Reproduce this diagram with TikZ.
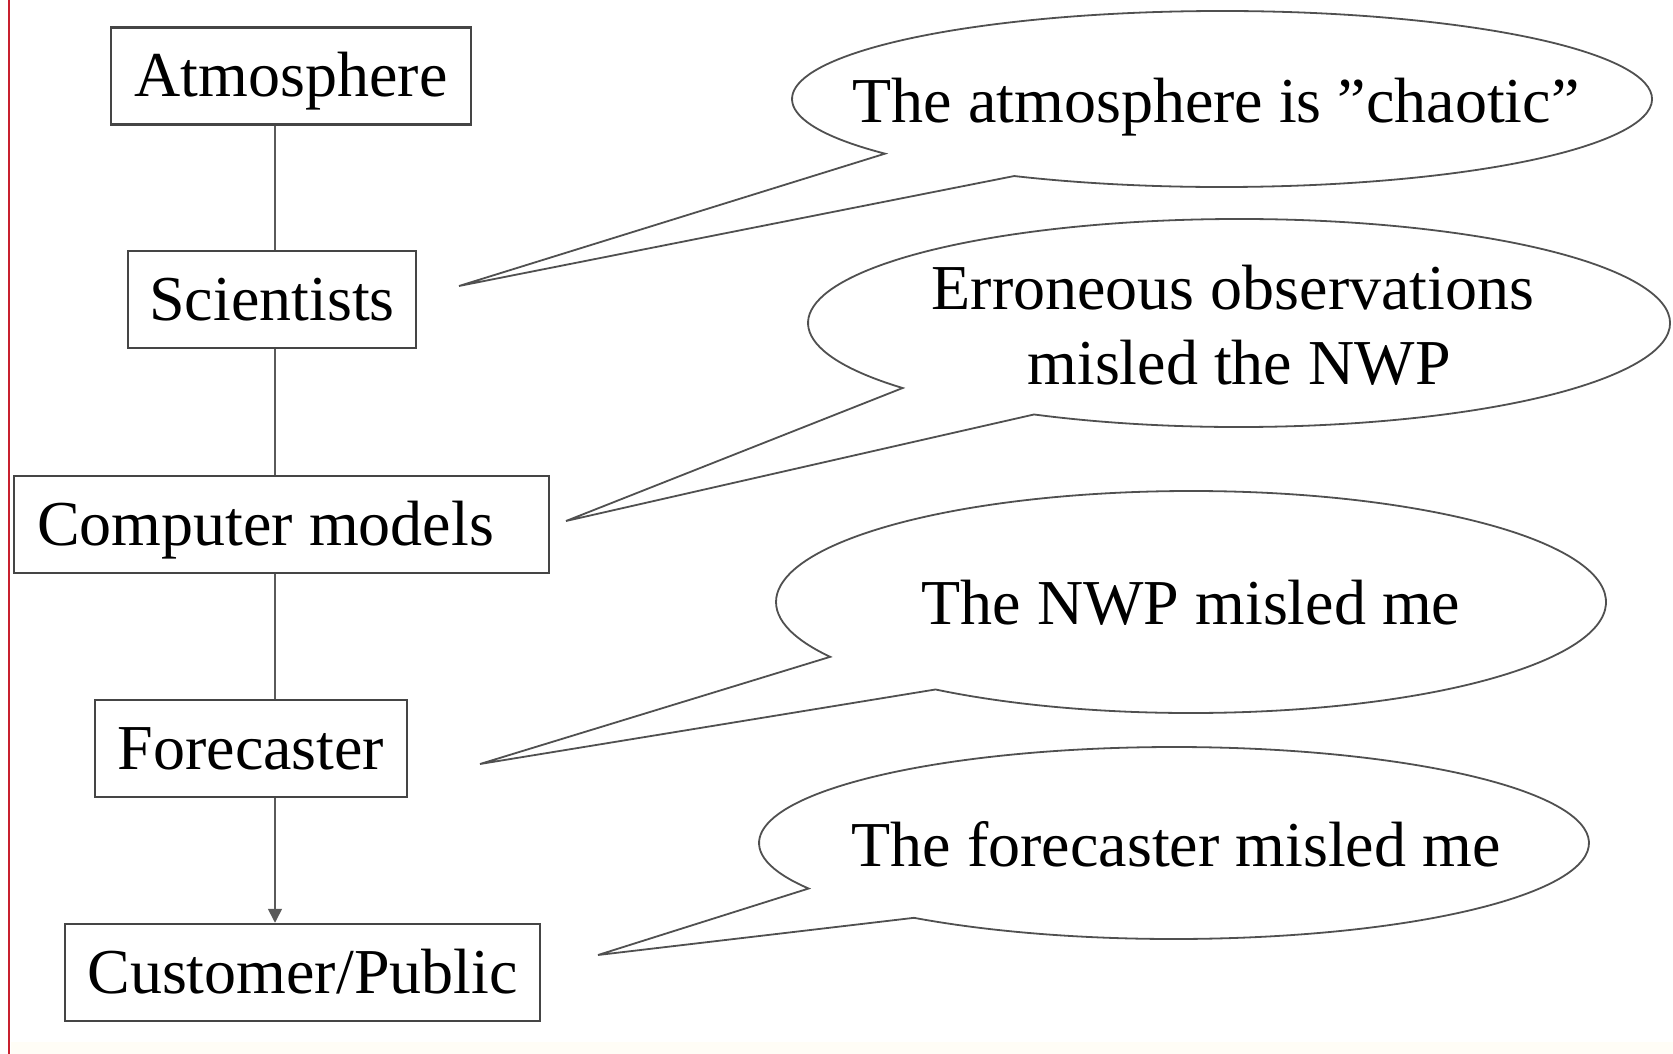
\documentclass[tikz,border=0pt]{standalone}
\usepackage{fontspec}
\setmainfont{Liberation Serif}
\usetikzlibrary{arrows.meta,calc}
\definecolor{boxline}{HTML}{454545}
\definecolor{connline}{HTML}{5A5A5A}
\definecolor{bubline}{HTML}{505050}
\definecolor{redrule}{HTML}{C8202E}
\definecolor{creamband}{HTML}{FFFDF6}
\begin{document}
\begin{tikzpicture}[x=1pt,y=-1pt,
  lbl/.style={font=\fontsize{64}{75}\selectfont, text=black, text height=42pt, text depth=0pt, inner sep=0pt},
  flowbox/.style={lbl, draw=boxline, line width=2.5pt, minimum height=97pt, inner xsep=0pt, inner ysep=0pt, align=center},
  connector/.style={draw=connline, line width=1.6pt},
  bubble/.style={draw=bubline, line width=1.8pt, line join=miter, fill=white}
]
% canvas
\fill[white] (0,0) rectangle (1673,1054);
\useasboundingbox (0,0) rectangle (1673,1054);
\fill[creamband] (11,1042) rectangle (1673,1054);
\draw[redrule, line width=2.5pt] (9,0) -- (9,1054);

% flow boxes
\node[flowbox, text width=360pt] (atm) at (291,76) {Atmosphere};
\node[flowbox, text width=288pt] (sci) at (272,299.5) {Scientists};
\node[flowbox, inner xsep=23pt, text width=489pt, align=flush left] (cm) at (281.5,524.5) {Computer models};
\node[flowbox, text width=312pt] (fc) at (251,748.5) {Forecaster};
\node[flowbox, text width=475pt] (cp) at (302.5,972.5) {Customer/Public};

% vertical connectors
\coordinate (ax) at (275,0);
\draw[connector] (atm.south -| ax) -- (sci.north -| ax);
\draw[connector] (sci.south -| ax) -- (cm.north -| ax);
\draw[connector] (cm.south -| ax) -- (fc.north -| ax);
\draw[connector, -{Triangle[length=14pt,width=14pt]}] (fc.south -| ax) -- (cp.north -| ax);

% bubble 1
\coordinate (e1) at (1222,99);
\coordinate (n1) at ($(e1)+(141.6:430 and 88)$);
\coordinate (j1) at ($(e1)+(118.9:430 and 88)$);
\coordinate (tip1) at (459,286);
\draw[bubble] (n1) -- (tip1) -- (j1) arc[start angle=118.9, end angle=-218.4, x radius=430, y radius=88] -- cycle;
\node[lbl, anchor=base] (t1) at (1216,123) {The atmosphere is ”chaotic”};

% bubble 2
\coordinate (e2) at (1239,323);
\coordinate (n2) at ($(e2)+(141.3:431 and 104)$);
\coordinate (j2) at ($(e2)+(118.4:431 and 104)$);
\coordinate (tip2) at (566,521);
\draw[bubble] (n2) -- (tip2) -- (j2) arc[start angle=118.4, end angle=-218.7, x radius=431, y radius=104] -- cycle;
\node[lbl, anchor=base] (t2a) at (1233,309) {Erroneous observations};
\node[lbl, anchor=base] (t2b) at (1239,384) {misled the NWP};

% bubble 3
\coordinate (e3) at (1191,602);
\coordinate (n3) at ($(e3)+(150.4:415 and 111)$);
\coordinate (j3) at ($(e3)+(128.0:415 and 111)$);
\coordinate (tip3) at (480,764);
\draw[bubble] (n3) -- (tip3) -- (j3) arc[start angle=128.0, end angle=-209.6, x radius=415, y radius=111] -- cycle;
\node[lbl, anchor=base] (t3) at (1191,624) {The NWP misled me};

% bubble 4
\coordinate (e4) at (1174,843);
\coordinate (n4) at ($(e4)+(151.7:415 and 96)$);
\coordinate (j4) at ($(e4)+(128.8:415 and 96)$);
\coordinate (tip4) at (598,955);
\draw[bubble] (n4) -- (tip4) -- (j4) arc[start angle=128.8, end angle=-208.3, x radius=415, y radius=96] -- cycle;
\node[lbl, anchor=base] (t4) at (1176,866) {The forecaster misled me};
\end{tikzpicture}
\end{document}
